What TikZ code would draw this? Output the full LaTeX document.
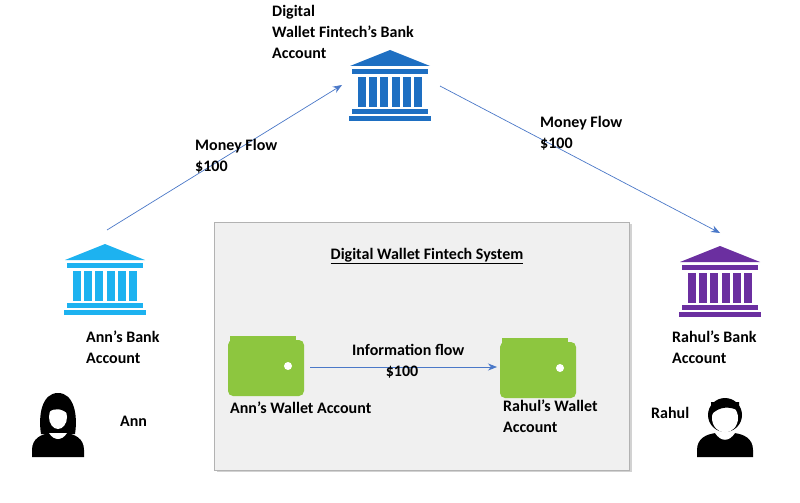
\documentclass[tikz,border=0pt]{standalone}
\usepackage{fontspec}
\setmainfont{Carlito}
\usetikzlibrary{arrows.meta,shadows}
\definecolor{bankA}{HTML}{1E6FC2}
\definecolor{bankB}{HTML}{1DB2F0}
\definecolor{bankC}{HTML}{6B2FA0}
\definecolor{walletG}{HTML}{8DC63F}
\definecolor{flow}{HTML}{4A78C8}
\tikzset{
 lbl/.style={font=\bfseries\fontsize{16}{21}\selectfont, align=left, inner sep=0pt},
 flowarrow/.style={draw=flow, line width=0.7pt, -{Stealth[length=9pt,width=7pt]}},
 pics/bank/.style={code={
  \fill (-40,-20) -- (0,-36) -- (40,-20) -- cycle;
  \fill (-38,-17) rectangle (38,-12);
  \foreach \x in {-28,-17,-6,6,17,28} \fill (\x-4,-9) rectangle (\x+4,21);
  \fill (-38,23) rectangle (38,28);
  \fill (-41,30) rectangle (41,35);
 }},
 pics/wallet/.style={code={
  \fill[walletG] (-36,-30) -- (30,-30) -- (30,-24) -- (-36,-24) -- cycle;
  \fill[walletG, rounded corners=5pt] (-38,-26) rectangle (38,30);
  \fill[white] (22,0) circle (4);
 }}
}
\begin{document}
\begin{tikzpicture}[x=1pt,y=-1pt]
\useasboundingbox (0,0) rectangle (800,503);
\fill[white] (0,0) rectangle (800,503);
\node[draw=gray!60, fill=gray!12, drop shadow={opacity=0.35}, minimum width=415pt, minimum height=248pt, inner sep=0pt] (sys) at (422,346) {};
\node[lbl] (systitle) at (427,256) {\underline{Digital Wallet Fintech System}};
\path[bankA] (390,86) pic {bank};
\coordinate (topbank) at (390,86);
\path[bankB] (105,280) pic {bank};
\coordinate (annbank) at (105,280);
\path[bankC] (720,282) pic {bank};
\coordinate (rahulbank) at (720,282);
\node[lbl, anchor=north west] (toptxt) at (272,5) {Digital\\Wallet Fintech’s Bank\\Account};
\node[lbl, anchor=north west] (anntxt) at (86,331) {Ann’s Bank\\Account};
\node[lbl, anchor=north west] (rahultxt) at (672,331) {Rahul’s Bank\\Account};
\coordinate (a1) at (107,230); \coordinate (a2) at (342,85);
\coordinate (b1) at (440,86); \coordinate (b2) at (720,233);
\draw[flowarrow] (a1) -- (a2);
\draw[flowarrow] (b1) -- (b2);
\node[lbl, anchor=north west] (mf1) at (195,139) {Money Flow\\\$100};
\node[lbl, anchor=north west] (mf2) at (540,116) {Money Flow\\\$100};
\path (266,366) pic {wallet};
\coordinate (w1) at (266,366);
\path (538,368) pic {wallet};
\coordinate (w2) at (538,368);
\coordinate (i1) at (310,367); \coordinate (i2) at (497,367);
\draw[flowarrow] (i1) -- (i2);
\node[lbl, anchor=north west] (info) at (352,344) {Information flow\\\hspace*{2.1em}\$100};
\node[lbl, anchor=north west] (w1txt) at (230,402) {Ann’s Wallet Account};
\node[lbl, anchor=north west] (w2txt) at (503,400) {Rahul’s Wallet\\Account};
\begin{scope}[shift={(58,420)}]
 \fill (-26,37) -- (-26,30) .. controls (-26,18) and (-16,14) .. (-8,13) -- (8,13) .. controls (16,14) and (26,18) .. (26,30) -- (26,37) -- cycle;
 \fill (-17,14) .. controls (-20,-5) and (-16,-27) .. (0,-27) .. controls (16,-27) and (20,-5) .. (17,14) -- cycle;
 \fill[white] (0,-3) ellipse (9 and 12);
 \fill (-10,-8) .. controls (-4,-20) and (6,-20) .. (10,-6) .. controls (4,-12) and (-4,-12) .. (-10,-8);
 \fill[white] (-9,13) .. controls (-4,21) and (4,21) .. (9,13) -- cycle;
\end{scope}
\coordinate (ann) at (58,420);
\node[lbl, anchor=west] (anntag) at (120,421) {Ann};
\begin{scope}[shift={(725,420)}]
 \fill (-28,37) -- (-28,30) .. controls (-28,18) and (-18,14) .. (-9,13) -- (9,13) .. controls (18,14) and (28,18) .. (28,30) -- (28,37) -- cycle;
 \fill[white] (-10,13) .. controls (-4,22) and (4,22) .. (10,13) -- cycle;
 \fill (0,-5) circle (17);
 \fill[white] (0,-2) ellipse (13 and 14.5);
 \fill (-14,-5) .. controls (-6,-14) and (5,-14) .. (14,-9) -- (14,-18) -- (-14,-18) -- cycle;
\end{scope}
\coordinate (rahul) at (725,420);
\node[lbl, anchor=west] (rahultag) at (651,413) {Rahul};
\end{tikzpicture}
\end{document}
